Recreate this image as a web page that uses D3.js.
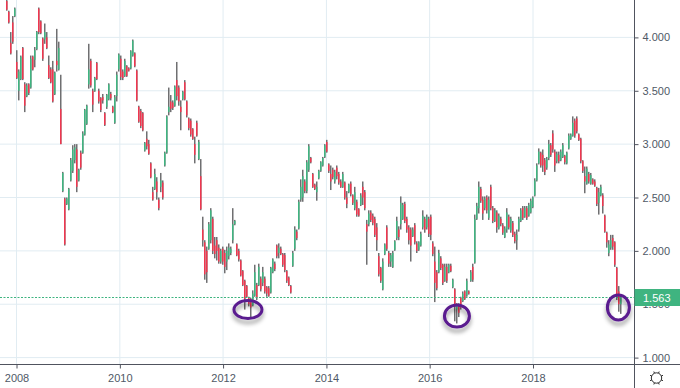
<!DOCTYPE html>
<html>
<head>
<meta charset="utf-8">
<script src="https://cdnjs.cloudflare.com/ajax/libs/d3/7.8.5/d3.min.js"></script>
<style>
    html, body { margin: 0; padding: 0; background: #fff; }
    svg { display: block; }
    text { font-family: "Liberation Sans", Arial, sans-serif; }
</style>
</head>
<body>
<div id="chart"></div>
<script>
// Data: fortnightly candles, first one in Oct 2007
const highs = [
    4.35,4.25,4.05,4.2,4.28,3.88,3.7,3.83,3.91,3.58,
    3.57,3.57,3.83,3.83,3.91,4.06,4.28,4.16,4.0,4.13,
    4.05,3.83,3.72,3.78,3.68,4.08,3.96,3.65,2.74,2.5,
    2.5,2.59,2.87,2.99,3.0,3.0,2.77,2.94,3.12,3.33,
    3.37,3.94,3.8,3.52,3.63,3.77,3.52,3.44,3.47,3.3,
    3.47,3.57,3.49,3.36,3.46,3.68,3.85,3.83,3.7,3.8,
    3.74,3.72,3.88,3.98,3.86,3.7,3.36,3.33,3.3,3.02,
    3.12,3.04,2.83,2.6,2.77,2.69,2.5,2.73,2.66,2.93,
    3.27,3.53,3.46,3.41,3.55,3.77,3.55,3.41,3.5,3.6,
    3.41,3.25,3.24,3.15,3.07,3.22,3.04,2.86,2.32,2.1,
    2.04,2.27,2.4,2.32,2.13,2.13,2.06,2.02,2.04,2.01,
    2.04,2.07,2.04,2.4,2.29,2.07,2.02,1.92,1.82,1.73,
    1.68,1.57,1.56,1.63,1.87,1.7,1.88,1.76,1.85,1.76,
    1.67,1.67,1.85,1.93,1.9,2.06,2.07,2.04,1.98,1.98,
    1.82,1.76,1.68,2.0,2.23,2.2,2.48,2.67,2.76,2.67,
    2.85,3.0,2.88,2.73,2.63,2.65,2.76,2.84,2.88,3.0,
    3.04,2.82,2.8,2.78,2.76,2.8,2.74,2.67,2.74,2.65,
    2.56,2.63,2.65,2.53,2.6,2.48,2.4,2.54,2.65,2.57,
    2.29,2.38,2.38,2.35,2.32,2.26,1.98,1.85,1.93,2.07,
    2.24,2.0,1.98,2.0,2.1,2.32,2.23,2.51,2.45,2.46,
    2.32,2.24,2.22,2.22,2.26,2.09,2.09,2.18,2.38,2.32,
    2.34,2.32,2.34,2.09,2.04,1.82,2.01,1.95,1.88,1.88,
    1.88,1.88,1.88,1.74,1.65,1.51,1.51,1.57,1.62,1.63,
    1.74,1.63,1.82,1.88,2.34,2.45,2.65,2.6,2.51,2.51,
    2.52,2.51,2.62,2.42,2.4,2.38,2.35,2.32,2.26,2.23,
    2.4,2.34,2.32,2.28,2.18,2.2,2.32,2.4,2.42,2.42,
    2.42,2.45,2.49,2.51,2.68,2.82,2.96,2.93,2.95,2.87,
    2.88,3.04,3.01,3.13,2.95,2.93,2.93,2.95,3.01,2.9,
    2.93,3.1,3.1,3.26,3.24,3.26,3.1,3.06,2.85,2.79,
    2.79,2.74,2.73,2.68,2.67,2.6,2.59,2.62,2.54,2.34,
    2.18,2.1,2.15,2.15,2.09,1.85,1.67,1.58
];
const lows = [
    4.25,4.13,3.84,3.94,4.19,3.61,3.41,3.6,3.6,3.3,
    3.44,3.46,3.52,3.69,3.72,3.88,4.03,4.03,3.78,3.94,
    3.89,3.61,3.57,3.39,3.46,3.68,3.69,3.0,2.55,2.05,
    2.43,2.38,2.65,2.73,2.82,2.55,2.65,2.76,2.91,3.08,
    3.18,3.52,3.53,3.3,3.49,3.6,3.38,3.3,3.38,3.17,
    3.33,3.41,3.41,3.29,3.19,3.4,3.68,3.6,3.6,3.63,
    3.63,3.68,3.7,3.82,3.72,3.4,3.2,3.15,3.12,2.93,
    2.95,2.9,2.68,2.47,2.57,2.48,2.38,2.55,2.48,2.79,
    2.91,3.27,3.3,3.32,3.35,3.41,3.36,3.13,3.41,3.41,
    3.25,3.13,3.07,3.04,2.82,3.07,2.85,2.38,2.04,1.73,
    1.7,2.01,2.07,1.97,1.93,1.91,1.88,1.88,1.87,1.79,
    1.82,1.92,1.96,2.07,2.24,1.95,1.9,1.76,1.67,1.45,
    1.56,1.48,1.38,1.48,1.57,1.54,1.67,1.62,1.67,1.6,
    1.57,1.57,1.6,1.79,1.81,1.93,1.93,1.96,1.85,1.8,
    1.7,1.67,1.6,1.85,2.0,2.1,2.2,2.46,2.46,2.54,
    2.54,2.74,2.82,2.59,2.57,2.47,2.67,2.74,2.79,2.87,
    2.92,2.73,2.57,2.67,2.63,2.67,2.62,2.59,2.59,2.48,
    2.4,2.54,2.51,2.43,2.38,2.32,2.32,2.42,2.43,2.38,
    1.87,2.23,2.27,2.24,2.13,2.0,1.76,1.7,1.63,1.96,
    2.0,1.85,1.85,1.84,2.0,2.1,2.1,2.2,2.29,2.26,
    2.17,2.06,1.9,2.13,2.06,1.98,2.0,2.04,2.2,2.17,
    2.2,2.13,2.1,1.95,1.52,1.63,1.79,1.82,1.68,1.71,
    1.7,1.79,1.8,1.65,1.34,1.32,1.38,1.45,1.52,1.54,
    1.57,1.59,1.71,1.71,1.88,2.29,2.35,2.45,2.29,2.38,
    2.35,2.29,2.38,2.26,2.27,2.17,2.2,2.23,2.15,2.12,
    2.17,2.2,2.17,2.13,2.07,2.01,2.18,2.27,2.29,2.31,
    2.29,2.32,2.35,2.4,2.51,2.65,2.81,2.78,2.74,2.71,
    2.76,2.85,2.88,2.92,2.74,2.82,2.82,2.84,2.87,2.81,
    2.81,2.95,3.04,3.07,3.06,3.1,3.03,2.82,2.73,2.54,
    2.62,2.63,2.62,2.62,2.6,2.42,2.34,2.51,2.35,2.17,
    2.03,1.95,2.01,2.01,1.85,1.54,1.43,1.41
];
const opens = [
    4.34,4.24,3.95,4.14,4.2,3.77,3.5,3.61,3.9,3.56,
    3.45,3.56,3.53,3.82,3.79,3.89,4.27,4.15,3.99,3.98,
    4.0,3.74,3.7,3.7,3.47,3.78,3.7,3.33,2.56,2.49,
    2.44,2.39,2.66,2.75,2.85,2.95,2.66,2.92,2.92,3.09,
    3.19,3.56,3.78,3.5,3.5,3.76,3.5,3.43,3.44,3.29,
    3.35,3.42,3.47,3.35,3.2,3.45,3.7,3.8,3.68,3.64,
    3.73,3.71,3.71,3.83,3.85,3.69,3.35,3.31,3.29,2.94,
    3.05,3.0,2.82,2.55,2.58,2.65,2.48,2.6,2.64,2.8,
    2.92,3.3,3.4,3.39,3.36,3.6,3.53,3.35,3.42,3.58,
    3.4,3.24,3.22,3.14,3.0,3.2,2.86,2.7,2.2,2.08,
    2.0,2.02,2.1,2.3,2.05,2.1,2.03,1.9,2.02,1.98,
    1.9,1.95,1.98,2.1,2.25,2.06,2.0,1.91,1.81,1.72,
    1.67,1.56,1.55,1.49,1.58,1.68,1.68,1.74,1.7,1.74,
    1.66,1.65,1.61,1.8,1.88,2.05,1.98,2.02,1.97,1.96,
    1.81,1.75,1.67,1.86,2.02,2.18,2.21,2.48,2.5,2.65,
    2.56,2.76,2.87,2.72,2.62,2.55,2.68,2.75,2.8,2.88,
    3.02,2.81,2.72,2.76,2.65,2.78,2.72,2.65,2.6,2.64,
    2.5,2.55,2.63,2.52,2.4,2.46,2.39,2.43,2.6,2.55,
    2.25,2.25,2.36,2.33,2.3,2.22,1.95,1.84,1.64,1.97,
    2.22,1.98,1.9,1.85,2.01,2.12,2.2,2.25,2.3,2.44,
    2.3,2.22,2.2,2.14,2.24,2.07,2.01,2.05,2.22,2.3,
    2.22,2.3,2.32,2.07,1.9,1.8,1.8,1.93,1.87,1.72,
    1.85,1.8,1.86,1.66,1.64,1.45,1.5,1.56,1.53,1.62,
    1.58,1.62,1.72,1.85,1.89,2.3,2.4,2.58,2.48,2.4,
    2.5,2.31,2.6,2.4,2.28,2.36,2.21,2.3,2.24,2.13,
    2.2,2.32,2.19,2.26,2.16,2.1,2.2,2.28,2.4,2.32,
    2.4,2.33,2.36,2.41,2.52,2.66,2.82,2.92,2.9,2.85,
    2.78,2.87,2.99,3.1,2.93,2.84,2.9,2.85,2.88,2.89,
    2.82,2.96,3.05,3.08,3.22,3.24,3.09,3.05,2.84,2.7,
    2.63,2.72,2.63,2.67,2.65,2.59,2.45,2.52,2.52,2.33,
    2.17,1.98,2.03,2.12,2.08,1.84,1.62,1.5
];
const closes = [
    4.26,4.14,3.85,3.96,4.27,3.62,3.68,3.82,3.61,3.36,
    3.55,3.48,3.8,3.7,3.88,4.05,4.05,4.04,3.8,4.05,
    3.9,3.62,3.58,3.4,3.67,3.74,3.9,3.0,2.73,2.06,
    2.49,2.58,2.85,2.95,2.97,2.6,2.76,2.78,3.1,3.32,
    3.36,3.7,3.55,3.37,3.62,3.61,3.4,3.32,3.41,3.18,
    3.46,3.56,3.43,3.3,3.44,3.65,3.84,3.63,3.62,3.78,
    3.64,3.69,3.87,3.97,3.73,3.41,3.21,3.17,3.13,3.01,
    2.98,2.91,2.69,2.48,2.72,2.55,2.4,2.66,2.5,2.92,
    3.26,3.35,3.33,3.34,3.54,3.45,3.4,3.3,3.49,3.42,
    3.27,3.15,3.09,3.05,2.9,3.08,3.02,2.39,2.1,1.78,
    1.8,2.25,2.38,2.0,1.97,2.0,1.9,2.0,1.9,1.85,
    2.0,2.03,2.02,2.25,2.28,1.96,1.92,1.77,1.68,1.55,
    1.57,1.5,1.47,1.6,1.8,1.56,1.85,1.64,1.8,1.62,
    1.6,1.58,1.84,1.92,1.83,1.95,2.03,1.97,1.87,1.82,
    1.72,1.68,1.61,1.98,2.2,2.12,2.46,2.6,2.7,2.56,
    2.83,2.98,2.83,2.6,2.58,2.6,2.75,2.83,2.87,2.99,
    2.93,2.75,2.65,2.69,2.74,2.7,2.64,2.6,2.72,2.5,
    2.44,2.62,2.53,2.45,2.55,2.34,2.33,2.52,2.5,2.4,
    2.18,2.35,2.29,2.26,2.15,2.1,1.78,1.72,1.9,2.06,
    2.02,1.88,1.96,1.98,2.09,2.28,2.13,2.45,2.43,2.28,
    2.2,2.1,2.05,2.2,2.08,2.0,2.08,2.16,2.33,2.2,
    2.32,2.16,2.15,1.97,1.7,1.65,1.98,1.84,1.7,1.85,
    1.72,1.87,1.81,1.73,1.48,1.5,1.42,1.47,1.6,1.55,
    1.72,1.6,1.8,1.73,2.3,2.42,2.6,2.47,2.35,2.49,
    2.38,2.48,2.4,2.28,2.38,2.22,2.33,2.25,2.17,2.21,
    2.36,2.22,2.3,2.15,2.09,2.15,2.3,2.38,2.31,2.4,
    2.31,2.43,2.47,2.5,2.66,2.8,2.93,2.8,2.8,2.74,
    2.86,3.0,2.9,2.95,2.8,2.91,2.84,2.93,2.99,2.83,
    2.92,3.08,3.09,3.2,3.08,3.12,3.04,2.84,2.75,2.65,
    2.77,2.65,2.71,2.63,2.61,2.44,2.55,2.6,2.42,2.18,
    2.08,2.06,2.1,2.04,1.87,1.56,1.5,1.563
];

const priceTicks = [1, 1.5, 2, 2.5, 3, 3.5, 4];
const yearTicks = [2008, 2010, 2012, 2014, 2016, 2018];
const lastPrice = 1.563;

// the three lows that were circled by hand
const circleDates = ["2012-06-25", "2016-07-12", "2019-08-28"];
const circlePrices = [1.45, 1.39, 1.47];

const width = 680, height = 388;
const plotRight = 634.5, plotBottom = 364.5;
const barStart = Date.UTC(2007, 9, 18);
const barStep = 339.5 * 3600 * 1000;

const green = "#3fb480", red = "#f0364f", wick = "#6f6f71", grid = "#e1ecf2";
const axisColor = "#50535e", labelColor = "#4f5966", purple = "#5a1a8f";

let bars = highs.map((h, i) => ({
    date: new Date(barStart + i * barStep),
    high: h,
    low: lows[i],
    open: opens[i],
    close: closes[i]
}));

let x = d3.scaleUtc()
    .domain([new Date(Date.UTC(2008, 0, 1)), new Date(Date.UTC(2018, 0, 1))])
    .range([16.5, 533]);

let y = d3.scaleLinear()
    .domain([1, 4])
    .range([357.6, 37.4]);

// keep the candles on whole pixel columns
let barX = d => Math.round(x(d.date));

let svg = d3.select("#chart").append("svg")
    .attr("width", width)
    .attr("height", height);

let defs = svg.append("defs");

defs.append("clipPath").attr("id", "plot")
    .append("rect")
    .attr("width", plotRight)
    .attr("height", plotBottom);

let shadow = defs.append("filter").attr("id", "shadow")
    .attr("x", "-40%").attr("y", "-40%")
    .attr("width", "180%").attr("height", "190%");
shadow.append("feDropShadow")
    .attr("dx", 0).attr("dy", 4)
    .attr("stdDeviation", 2.2)
    .attr("flood-color", "#000")
    .attr("flood-opacity", 0.4);

let plot = svg.append("g").attr("clip-path", "url(#plot)");

// grid
let yearDates = yearTicks.map(d => new Date(Date.UTC(d, 0, 1)));

plot.selectAll(".vgrid")
    .data(yearDates)
    .enter().append("line")
    .attr("x1", d => x(d)).attr("x2", d => x(d))
    .attr("y1", 0).attr("y2", plotBottom)
    .attr("stroke", grid).attr("stroke-width", 1);

plot.selectAll(".hgrid")
    .data(priceTicks)
    .enter().append("line")
    .attr("x1", 0).attr("x2", plotRight)
    .attr("y1", d => y(d)).attr("y2", d => y(d))
    .attr("stroke", grid).attr("stroke-width", 1);

// candles
plot.selectAll(".wick")
    .data(bars)
    .enter().append("rect")
    .attr("x", d => barX(d))
    .attr("width", 1.5)
    .attr("y", d => y(d.high))
    .attr("height", d => y(d.low) - y(d.high))
    .attr("fill", wick);

plot.selectAll(".body")
    .data(bars)
    .enter().append("rect")
    .attr("x", d => barX(d))
    .attr("width", 1.5)
    .attr("y", d => y(Math.max(d.open, d.close)))
    .attr("height", d => Math.abs(y(d.open) - y(d.close)))
    .attr("fill", d => d.close >= d.open ? green : red);

// last price line
let lastY = Math.floor(y(lastPrice)) + 0.5;

plot.append("line")
    .attr("x1", 0).attr("x2", plotRight)
    .attr("y1", lastY).attr("y2", lastY)
    .attr("stroke", green)
    .attr("stroke-dasharray", "2 1.5");

// hand drawn circles
let circleSizes = [[14, 9], [12.5, 11], [11, 12.5]];
svg.selectAll(".mark")
    .data(circleDates)
    .enter().append("ellipse")
    .attr("cx", d => x(new Date(d)))
    .attr("cy", (d, i) => y(circlePrices[i]))
    .attr("rx", (d, i) => circleSizes[i][0])
    .attr("ry", (d, i) => circleSizes[i][1])
    .attr("fill", "none")
    .attr("stroke", purple)
    .attr("stroke-width", 3)
    .attr("filter", "url(#shadow)");

// axes
let yAxis = d3.axisRight(y)
    .tickValues(priceTicks)
    .tickFormat(d3.format(".3f"))
    .tickSize(4)
    .tickPadding(4);

let xAxis = d3.axisBottom(x)
    .tickValues(yearDates)
    .tickFormat(d3.utcFormat("%Y"))
    .tickSize(4)
    .tickPadding(6);

let yG = svg.append("g")
    .attr("transform", `translate(${plotRight},0)`)
    .call(yAxis);

let xG = svg.append("g")
    .attr("transform", `translate(0,${plotBottom})`)
    .call(xAxis);

[yG, xG].forEach(g => {
    g.select(".domain").remove();
    g.selectAll("line").attr("stroke", axisColor);
    g.selectAll("text")
        .attr("fill", labelColor)
        .style("font-family", '"Liberation Sans", Arial, sans-serif')
        .style("font-size", "11px");
});

svg.append("line")
    .attr("x1", plotRight).attr("x2", plotRight)
    .attr("y1", 0).attr("y2", height)
    .attr("stroke", axisColor);

svg.append("line")
    .attr("x1", 0).attr("x2", width)
    .attr("y1", plotBottom).attr("y2", plotBottom)
    .attr("stroke", axisColor);

// last price tag
svg.append("rect")
    .attr("x", plotRight)
    .attr("y", lastY - 8.5)
    .attr("width", width - plotRight)
    .attr("height", 17)
    .attr("fill", green);

svg.append("text")
    .attr("x", plotRight + 8.5)
    .attr("y", lastY + 4)
    .attr("fill", "#fff")
    .style("font-size", "11px")
    .text(d3.format(".3f")(lastPrice));

// settings icon
let gear = svg.append("g")
    .attr("transform", "translate(656.5,378)")
    .attr("stroke", "#2b2b2b")
    .attr("fill", "none");

gear.append("circle").attr("r", 5.2);

d3.range(8).forEach(i => {
    let a = i * Math.PI / 4 + Math.PI / 8;
    gear.append("line")
        .attr("x1", 5.2 * Math.cos(a)).attr("y1", 5.2 * Math.sin(a))
        .attr("x2", 7 * Math.cos(a)).attr("y2", 7 * Math.sin(a));
});
</script>
</body>
</html>
